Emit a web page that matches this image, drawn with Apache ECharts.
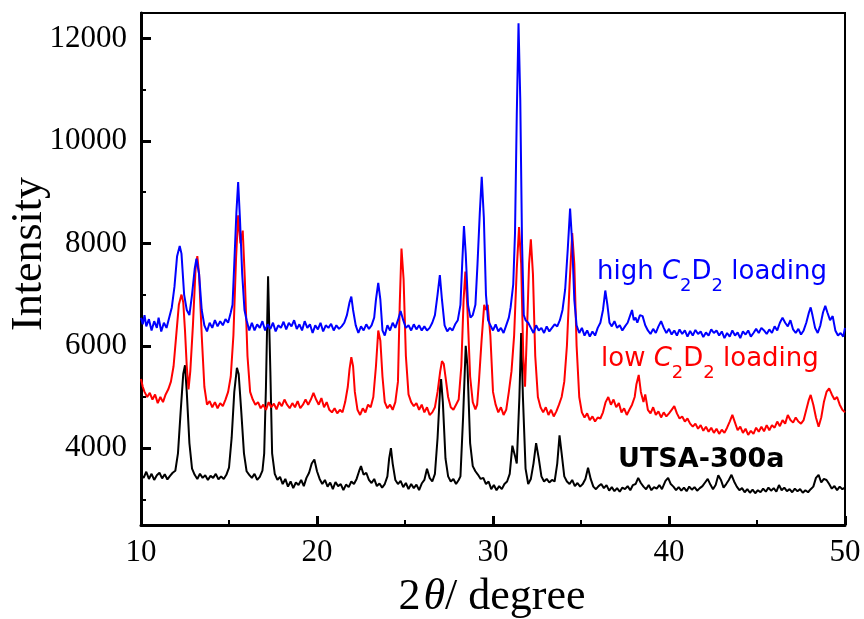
<!DOCTYPE html>
<html>
<head>
<meta charset="utf-8">
<script src="https://cdn.jsdelivr.net/npm/echarts@6/dist/echarts.min.js"></script>
<style>
html, body { margin: 0; padding: 0; background: #ffffff; }
#chart { width: 864px; height: 619px; }
</style>
</head>
<body>
<div id="chart"></div>
<script>
// Powder XRD patterns: 2-theta (degree) vs intensity (counts)
const thetaMin = 10;
const thetaMax = 50;
const thetaStep = 10;
const intensityMin = 2500;
const intensityMax = 12500;
const yMajorTicks = [4000, 6000, 8000, 10000, 12000];
const yMinorTicks = [3000, 5000, 7000, 9000, 11000];

// as-synthesised framework
const utsa300a = [
  [10.0,3480],[10.15,3420],[10.3,3540],[10.45,3400],[10.6,3500],[10.75,3380],[10.9,3470],[11.05,3520],[11.2,3410],[11.35,3490],
  [11.5,3390],[11.65,3460],[11.8,3520],[11.95,3560],[12.1,3900],[12.25,4700],[12.4,5450],[12.5,5620],[12.6,5100],[12.75,4100],
  [12.9,3600],[13.05,3480],[13.2,3400],[13.35,3500],[13.5,3420],[13.65,3470],[13.8,3380],[13.95,3460],[14.1,3420],[14.25,3500],
  [14.4,3390],[14.55,3450],[14.7,3400],[14.85,3480],[15.0,3620],[15.15,4200],[15.3,5100],[15.45,5570],[15.55,5450],[15.7,4700],
  [15.85,3900],[16.0,3550],[16.15,3480],[16.3,3420],[16.45,3500],[16.6,3380],[16.75,3440],[16.9,3560],[17.0,3900],[17.1,5200],
  [17.22,7360],[17.35,5500],[17.45,3900],[17.6,3500],[17.75,3380],[17.9,3440],[18.05,3300],[18.2,3400],[18.35,3250],[18.5,3350],
  [18.65,3220],[18.8,3330],[18.95,3280],[19.1,3380],[19.25,3260],[19.4,3420],[19.55,3520],[19.7,3700],[19.85,3780],[20.0,3550],
  [20.15,3400],[20.3,3300],[20.45,3380],[20.6,3250],[20.75,3330],[20.9,3200],[21.05,3340],[21.2,3260],[21.35,3300],[21.5,3180],
  [21.65,3290],[21.8,3240],[21.95,3350],[22.1,3300],[22.25,3400],[22.4,3560],[22.5,3650],[22.65,3480],[22.8,3520],[22.95,3380],
  [23.1,3320],[23.25,3400],[23.4,3260],[23.55,3310],[23.7,3230],[23.85,3300],[24.0,3450],[24.1,3800],[24.2,4000],[24.3,3700],
  [24.45,3380],[24.6,3300],[24.75,3360],[24.9,3240],[25.05,3320],[25.2,3200],[25.35,3300],[25.5,3220],[25.65,3290],[25.8,3180],
  [25.95,3310],[26.1,3380],[26.25,3600],[26.4,3420],[26.55,3350],[26.7,3500],[26.85,4200],[27.0,5200],[27.05,5350],[27.15,4900],
  [27.3,3800],[27.45,3450],[27.6,3350],[27.75,3400],[27.9,3300],[28.05,3380],[28.15,3450],[28.3,4600],[28.45,6000],[28.55,5600],
  [28.7,4100],[28.85,3650],[29.0,3550],[29.15,3480],[29.3,3400],[29.45,3420],[29.6,3300],[29.75,3350],[29.9,3200],[30.05,3280],
  [30.2,3180],[30.35,3260],[30.5,3200],[30.65,3300],[30.8,3350],[30.95,3500],[31.1,4050],[31.25,3850],[31.35,3700],[31.5,5000],
  [31.6,6250],[31.7,5000],[31.85,3600],[32.0,3300],[32.15,3400],[32.3,3700],[32.45,4100],[32.6,3800],[32.75,3450],[32.9,3350],
  [33.05,3400],[33.2,3330],[33.35,3380],[33.5,3350],[33.65,3700],[33.78,4250],[33.9,3900],[34.05,3450],[34.2,3350],[34.35,3300],
  [34.5,3380],[34.65,3260],[34.8,3320],[34.95,3250],[35.1,3300],[35.25,3400],[35.4,3620],[35.55,3400],[35.7,3250],[35.85,3200],
  [36.0,3260],[36.15,3300],[36.3,3220],[36.45,3280],[36.6,3170],[36.75,3240],[36.9,3160],[37.05,3220],[37.2,3150],[37.35,3230],
  [37.5,3200],[37.65,3260],[37.8,3180],[37.95,3280],[38.1,3300],[38.25,3420],[38.4,3320],[38.55,3250],[38.7,3200],[38.85,3280],
  [39.0,3180],[39.15,3240],[39.3,3210],[39.45,3280],[39.6,3200],[39.8,3360],[39.95,3420],[40.1,3300],[40.25,3250],[40.4,3180],
  [40.55,3240],[40.7,3170],[40.85,3230],[41.0,3160],[41.15,3250],[41.3,3190],[41.45,3240],[41.6,3170],[41.75,3220],[41.9,3260],
  [42.05,3330],[42.2,3400],[42.35,3290],[42.5,3200],[42.65,3280],[42.8,3470],[42.95,3380],[43.1,3230],[43.25,3300],[43.4,3380],
  [43.55,3480],[43.7,3350],[43.85,3250],[44.0,3180],[44.15,3220],[44.3,3140],[44.45,3200],[44.6,3130],[44.75,3190],[44.9,3120],
  [45.05,3180],[45.2,3140],[45.35,3210],[45.5,3150],[45.65,3230],[45.8,3170],[45.95,3220],[46.1,3150],[46.25,3280],[46.4,3180],
  [46.55,3230],[46.7,3160],[46.85,3200],[47.0,3140],[47.15,3210],[47.3,3160],[47.45,3200],[47.6,3130],[47.75,3180],[47.9,3140],
  [48.05,3200],[48.2,3250],[48.35,3420],[48.5,3480],[48.65,3330],[48.8,3400],[48.95,3380],[49.1,3300],[49.25,3210],[49.4,3260],
  [49.55,3180],[49.7,3250],[49.85,3200],[50.0,3230]
];

// low C2D2 loading
const lowLoading = [
  [10.0,5350],[10.1,5200],[10.2,5100],[10.35,5000],[10.5,5080],[10.65,4950],[10.8,5050],[10.95,4880],[11.1,5000],[11.25,4900],
  [11.4,5050],[11.55,5150],[11.7,5300],[11.85,5600],[12.0,6200],[12.15,6800],[12.3,7000],[12.4,6850],[12.5,6300],[12.6,5600],
  [12.7,5150],[12.8,5500],[12.95,6400],[13.1,7500],[13.2,7750],[13.3,7400],[13.45,6200],[13.6,5200],[13.75,4850],[13.9,4920],
  [14.05,4800],[14.2,4900],[14.35,4780],[14.5,4880],[14.65,4820],[14.8,4950],[14.95,5100],[15.1,5400],[15.25,6200],[15.4,7700],
  [15.52,8550],[15.65,8000],[15.78,8250],[15.9,7300],[16.05,5800],[16.2,5100],[16.35,4950],[16.5,4850],[16.65,4900],[16.8,4780],
  [16.95,4850],[17.1,4750],[17.25,4900],[17.4,4800],[17.55,4870],[17.7,4760],[17.85,4900],[18.0,4820],[18.15,4950],[18.3,4850],
  [18.45,4780],[18.6,4880],[18.75,4800],[18.9,4920],[19.05,4780],[19.2,4850],[19.35,4950],[19.5,4850],[19.65,4950],[19.8,5080],
  [19.95,4950],[20.1,4850],[20.25,4980],[20.4,4800],[20.55,4900],[20.7,4750],[20.85,4700],[21.0,4780],[21.15,4680],[21.3,4750],
  [21.45,4700],[21.6,4900],[21.75,5200],[21.85,5550],[21.95,5780],[22.05,5600],[22.15,5100],[22.3,4750],[22.45,4650],[22.6,4780],
  [22.75,4700],[22.9,4850],[23.05,4800],[23.2,5000],[23.35,5600],[23.48,6300],[23.6,6100],[23.72,5400],[23.85,4900],[24.0,4780],
  [24.15,4850],[24.3,4750],[24.45,4900],[24.6,5300],[24.7,6800],[24.8,7900],[24.92,7300],[25.05,5800],[25.2,5050],[25.35,4900],
  [25.5,4820],[25.65,4880],[25.8,4750],[25.95,4850],[26.1,4700],[26.25,4800],[26.4,4650],[26.55,4700],[26.7,4800],[26.85,5100],
  [27.0,5500],[27.1,5700],[27.2,5650],[27.3,5400],[27.45,5000],[27.6,4800],[27.75,4750],[27.9,4850],[28.05,4950],[28.2,5600],
  [28.33,6900],[28.43,7450],[28.55,6700],[28.7,5400],[28.85,4900],[29.0,4760],[29.1,4850],[29.2,5300],[29.35,6100],[29.5,6800],
  [29.6,6700],[29.7,6800],[29.85,6200],[30.0,5100],[30.15,4850],[30.3,4700],[30.45,4800],[30.6,4650],[30.75,4750],[30.9,5100],
  [31.05,5500],[31.2,6200],[31.35,7500],[31.48,8320],[31.6,7600],[31.72,5800],[31.82,5200],[31.95,6500],[32.05,7600],[32.15,8080],
  [32.27,7400],[32.4,5800],[32.55,5000],[32.7,4800],[32.85,4700],[33.0,4800],[33.15,4650],[33.3,4750],[33.45,4620],[33.6,4720],
  [33.75,4850],[33.9,5000],[34.05,5300],[34.2,6000],[34.35,7200],[34.5,8200],[34.62,7600],[34.75,6000],[34.9,5000],[35.05,4700],
  [35.2,4600],[35.35,4680],[35.5,4550],[35.65,4620],[35.8,4520],[35.95,4600],[36.1,4580],[36.25,4700],[36.4,4900],[36.55,5000],
  [36.7,4850],[36.85,4950],[37.0,4800],[37.15,4880],[37.3,4700],[37.45,4780],[37.6,4650],[37.75,4750],[37.9,4850],[38.05,5000],
  [38.15,5250],[38.28,5430],[38.4,5100],[38.55,4900],[38.65,5050],[38.8,4750],[38.95,4680],[39.1,4800],[39.25,4650],[39.4,4720],
  [39.55,4600],[39.7,4700],[39.85,4620],[40.0,4680],[40.15,4750],[40.3,4820],[40.45,4680],[40.6,4580],[40.75,4620],[40.9,4520],
  [41.05,4580],[41.2,4480],[41.35,4420],[41.5,4480],[41.65,4380],[41.8,4450],[41.95,4340],[42.1,4420],[42.25,4320],[42.4,4400],
  [42.55,4300],[42.7,4380],[42.85,4280],[43.0,4360],[43.15,4300],[43.3,4400],[43.45,4520],[43.6,4650],[43.75,4500],[43.9,4350],
  [44.05,4420],[44.2,4300],[44.35,4380],[44.5,4260],[44.65,4340],[44.8,4280],[44.95,4400],[45.1,4320],[45.25,4420],[45.4,4330],
  [45.55,4450],[45.7,4350],[45.85,4450],[46.0,4400],[46.15,4520],[46.3,4430],[46.45,4550],[46.6,4480],[46.75,4650],[46.9,4550],
  [47.05,4500],[47.2,4600],[47.35,4520],[47.5,4480],[47.65,4550],[47.8,4750],[47.95,4950],[48.05,5040],[48.2,4850],[48.35,4600],
  [48.5,4420],[48.65,4600],[48.8,4900],[48.95,5100],[49.1,5170],[49.25,5050],[49.4,4950],[49.55,5000],[49.7,4850],[49.85,4750],
  [50.0,4700]
];

// high C2D2 loading
const highLoading = [
  [10.0,6550],[10.1,6420],[10.2,6600],[10.3,6380],[10.45,6520],[10.6,6300],[10.75,6480],[10.9,6350],[11.0,6550],[11.15,6280],
  [11.3,6450],[11.45,6350],[11.6,6550],[11.75,6750],[11.9,7150],[12.05,7750],[12.2,7950],[12.3,7800],[12.45,7000],[12.6,6700],
  [12.75,6600],[12.9,7000],[13.05,7500],[13.15,7700],[13.3,7400],[13.45,6700],[13.6,6400],[13.75,6280],[13.9,6450],[14.05,6350],
  [14.2,6500],[14.35,6380],[14.5,6480],[14.65,6400],[14.8,6520],[14.95,6450],[15.1,6650],[15.2,6800],[15.3,7600],[15.42,8600],
  [15.52,9200],[15.62,8500],[15.75,7400],[15.88,6700],[16.0,6500],[16.15,6300],[16.3,6450],[16.45,6300],[16.6,6420],[16.75,6350],
  [16.9,6480],[17.05,6300],[17.2,6420],[17.35,6330],[17.5,6450],[17.65,6280],[17.8,6400],[17.95,6350],[18.1,6470],[18.25,6320],
  [18.4,6450],[18.55,6380],[18.7,6500],[18.85,6330],[19.0,6420],[19.15,6300],[19.3,6480],[19.45,6350],[19.6,6420],[19.75,6250],
  [19.9,6400],[20.05,6320],[20.2,6450],[20.35,6280],[20.5,6400],[20.65,6350],[20.8,6430],[20.95,6300],[21.1,6400],[21.25,6330],
  [21.4,6380],[21.55,6450],[21.7,6600],[21.85,6850],[21.95,6960],[22.05,6700],[22.2,6400],[22.35,6250],[22.5,6380],[22.65,6300],
  [22.8,6420],[22.95,6330],[23.1,6400],[23.25,6550],[23.35,6900],[23.48,7230],[23.6,6900],[23.72,6300],[23.85,6200],[24.0,6400],
  [24.15,6300],[24.3,6450],[24.45,6350],[24.6,6500],[24.75,6680],[24.9,6500],[25.05,6350],[25.2,6400],[25.35,6300],[25.5,6420],
  [25.65,6320],[25.8,6400],[25.95,6300],[26.1,6380],[26.25,6300],[26.4,6350],[26.55,6450],[26.7,6600],[26.85,7000],[26.98,7380],
  [27.1,6900],[27.25,6400],[27.4,6280],[27.55,6350],[27.7,6300],[27.85,6420],[28.0,6500],[28.15,6800],[28.25,7600],[28.35,8340],
  [28.45,7800],[28.58,6800],[28.72,6550],[28.85,6600],[29.0,6800],[29.12,7600],[29.25,8600],[29.36,9300],[29.48,8500],[29.6,7000],
  [29.72,6500],[29.85,6400],[30.0,6300],[30.15,6420],[30.3,6280],[30.45,6350],[30.6,6250],[30.75,6400],[30.9,6550],[31.0,6750],
  [31.15,7200],[31.25,8200],[31.35,10500],[31.45,12300],[31.55,10800],[31.65,8000],[31.75,6600],[31.85,6500],[32.0,6450],[32.15,6350],
  [32.3,6250],[32.45,6400],[32.6,6300],[32.75,6350],[32.9,6250],[33.05,6380],[33.2,6280],[33.35,6350],[33.5,6420],[33.65,6380],
  [33.8,6500],[33.95,6700],[34.1,7100],[34.25,7900],[34.38,8680],[34.5,8000],[34.62,6900],[34.75,6400],[34.9,6250],[35.05,6350],
  [35.2,6200],[35.35,6300],[35.5,6180],[35.65,6280],[35.8,6200],[35.95,6350],[36.1,6450],[36.25,6700],[36.38,7080],[36.5,6800],
  [36.62,6450],[36.75,6380],[36.9,6480],[37.05,6350],[37.2,6400],[37.35,6300],[37.5,6380],[37.65,6450],[37.8,6600],[37.9,6700],
  [38.0,6500],[38.1,6550],[38.2,6450],[38.35,6600],[38.5,6580],[38.65,6400],[38.8,6300],[38.95,6230],[39.1,6330],[39.25,6250],
  [39.4,6380],[39.55,6480],[39.7,6350],[39.85,6250],[40.0,6330],[40.15,6220],[40.3,6300],[40.45,6200],[40.6,6320],[40.75,6230],
  [40.9,6300],[41.05,6180],[41.2,6290],[41.35,6200],[41.5,6310],[41.65,6230],[41.8,6280],[41.95,6170],[42.1,6260],[42.25,6200],
  [42.4,6320],[42.55,6250],[42.7,6300],[42.85,6200],[43.0,6280],[43.15,6150],[43.3,6250],[43.45,6180],[43.6,6300],[43.75,6200],
  [43.9,6260],[44.05,6150],[44.2,6280],[44.35,6220],[44.5,6300],[44.65,6180],[44.8,6250],[44.95,6330],[45.1,6250],[45.25,6350],
  [45.4,6300],[45.55,6230],[45.7,6320],[45.85,6250],[46.0,6380],[46.15,6300],[46.3,6450],[46.45,6550],[46.6,6450],[46.75,6380],
  [46.9,6500],[47.05,6320],[47.2,6250],[47.35,6330],[47.5,6220],[47.65,6300],[47.8,6450],[47.95,6650],[48.05,6750],[48.15,6600],
  [48.3,6350],[48.45,6250],[48.6,6400],[48.75,6650],[48.88,6780],[49.0,6650],[49.15,6500],[49.3,6580],[49.45,6300],[49.6,6200],
  [49.75,6250],[49.9,6180],[50.0,6350]
];

const serif = '"Liberation Serif", "Times New Roman", serif';
const handFont = '"DejaVu Sans", sans-serif';

const chart = echarts.init(document.getElementById('chart'), null, { renderer: 'canvas' });

function trace(name, data, color) {
  return {
    name: name,
    type: 'line',
    data: data,
    showSymbol: false,
    symbol: 'none',
    smooth: false,
    animation: false,
    silent: true,
    lineStyle: { color: color, width: 2 },
    emphasis: { disabled: true }
  };
}

// labelled annotation with C2D2 subscripts
function loadingLabel(word, color, x, y) {
  const base = { fontFamily: handFont, fontSize: 26, lineHeight: 30, verticalAlign: 'top', fill: color };
  return {
    type: 'text',
    x: x,
    y: y,
    silent: true,
    style: {
      text: '{n|' + word + ' }{c|C}{s|2}{n|D}{s|2}{n| loading}',
      verticalAlign: 'top',
      rich: {
        n: Object.assign({}, base),
        c: Object.assign({}, base, { fontStyle: 'italic' }),
        s: { fontFamily: handFont, fontSize: 18, lineHeight: 20, verticalAlign: 'top', padding: [18, 0, 0, 0], fill: color }
      }
    }
  };
}

const plainNumber = (value) => String(value);

const option = {
  backgroundColor: '#ffffff',
  animation: false,
  textStyle: { fontFamily: serif, color: '#000' },
  grid: {
    left: 141, right: 19, top: 13, bottom: 94,
    show: true, borderColor: '#000', borderWidth: 2, backgroundColor: 'transparent'
  },
  xAxis: {
    type: 'value',
    min: thetaMin,
    max: thetaMax,
    interval: thetaStep,
    axisLine: { show: true, onZero: false, lineStyle: { color: '#000', width: 3 } },
    axisTick: { show: true, inside: true, length: 9, lineStyle: { color: '#000', width: 3 } },
    minorTick: { show: true, splitNumber: 2, length: 5, lineStyle: { color: '#000', width: 2 } },
    axisLabel: { color: '#000', fontFamily: serif, fontSize: 31, margin: 12, formatter: plainNumber },
    splitLine: { show: false }
  },
  yAxis: [
    {
      type: 'value',
      min: intensityMin,
      max: intensityMax,
      axisLine: { show: true, onZero: false, lineStyle: { color: '#000', width: 3 } },
      axisTick: { show: true, inside: true, length: 10, customValues: yMajorTicks, lineStyle: { color: '#000', width: 3 } },
      axisLabel: { color: '#000', fontFamily: serif, fontSize: 31, margin: 14, customValues: yMajorTicks, formatter: plainNumber },
      splitLine: { show: false }
    },
    {
      type: 'value',
      position: 'left',
      min: intensityMin,
      max: intensityMax,
      axisLine: { show: false },
      axisTick: { show: true, inside: true, length: 5, customValues: yMinorTicks, lineStyle: { color: '#000', width: 2 } },
      axisLabel: { show: false },
      splitLine: { show: false }
    }
  ],
  series: [
    trace('UTSA-300a', utsa300a, '#000000'),
    trace('low C2D2 loading', lowLoading, '#ff0000'),
    trace('high C2D2 loading', highLoading, '#0000ff')
  ],
  graphic: [
    {
      type: 'text', x: 29, y: 254, rotation: Math.PI / 2, silent: true,
      style: { text: 'Intensity', fontFamily: serif, fontSize: 44, fill: '#000', align: 'center', verticalAlign: 'middle' }
    },
    {
      type: 'text', x: 492, y: 597, silent: true,
      style: {
        text: '{a|2}{b|θ}{a|/ degree}',
        align: 'center', verticalAlign: 'middle',
        rich: {
          a: { fontFamily: serif, fontSize: 44, fill: '#000' },
          b: { fontFamily: serif, fontSize: 44, fontStyle: 'italic', fill: '#000', padding: [0, 0, 0, 3] }
        }
      }
    },
    loadingLabel('high', '#0000ff', 597, 259),
    loadingLabel('low', '#ff0000', 601, 346),
    {
      type: 'text', x: 618, y: 445, silent: true,
      style: { text: 'UTSA-300a', fontFamily: handFont, fontSize: 27, fontWeight: 'bold', lineHeight: 30, fill: '#000', verticalAlign: 'top' }
    }
  ]
};

chart.setOption(option);
</script>
</body>
</html>
